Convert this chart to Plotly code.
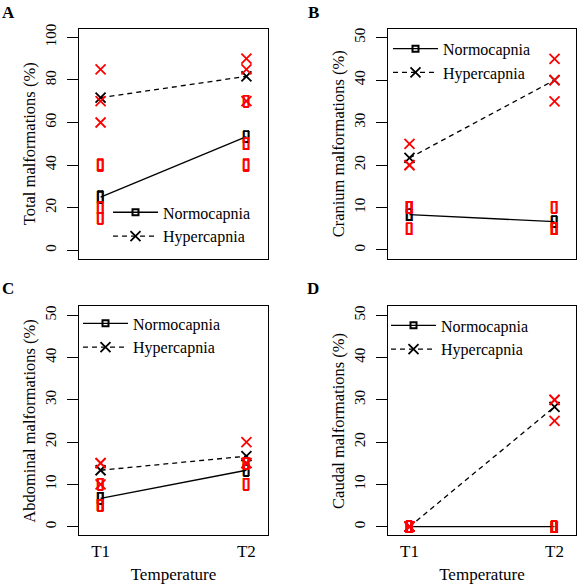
import plotly.graph_objects as go
import numpy as np

# ---------------- data ----------------
categories = ["T1", "T2"]

normo_A = [[40, 20, 15], [70, 50, 40]]
hyper_A = [[85, 70, 60], [90, 85, 70]]
normo_B = [[10, 10, 5], [10, 5, 5]]
hyper_B = [[25, 20, 20], [45, 40, 35]]
normo_C = [[10, 5, 5], [15, 15, 10]]
hyper_C = [[15, 15, 10], [20, 15, 15]]
normo_D = [[0, 0, 0], [0, 0, 0]]
hyper_D = [[0, 0, 0], [30, 30, 25]]

y_titles = ["Total malformations (%)", "Cranium malformations (%)",
            "Abdominal malformations (%)", "Caudal malformations (%)"]
panel_letters = ["A", "B", "C", "D"]
ticks_A = [0, 20, 40, 60, 80, 100]
ticks_BCD = [0, 10, 20, 30, 40, 50]
series_names = ["Normocapnia", "Hypercapnia"]
x_title = "Temperature"

# ---------------- layout geometry ----------------
W, H = 577, 585
FONT = "Liberation Serif"
RECT = "\u25AF"

def fx(px):
    return px / W

def fy(py):
    return 1 - py / H

panels = [
    dict(normo=normo_A, hyper=hyper_A, ticks=ticks_A, yr=[-4, 104],
         xd=[fx(79), fx(268)], yd=[fy(256), fy(24)], xt=False,
         leg=(108, 192), letter=(8, 8)),
    dict(normo=normo_B, hyper=hyper_B, ticks=ticks_BCD, yr=[-2.08, 52.08],
         xd=[fx(388), fx(576)], yd=[fy(256), fy(24)], xt=False,
         leg=(388, 27), letter=(313, 8)),
    dict(normo=normo_C, hyper=hyper_C, ticks=ticks_BCD, yr=[-2.08, 52.08],
         xd=[fx(79), fx(268)], yd=[fy(535), fy(304)], xt=True,
         leg=(78, 304), letter=(8, 286)),
    dict(normo=normo_D, hyper=hyper_D, ticks=ticks_BCD, yr=[-2.08, 52.08],
         xd=[fx(388), fx(576)], yd=[fy(535), fy(304)], xt=True,
         leg=(386, 306), letter=(313, 286)),
]

fig = go.Figure()
layout = dict(
    width=W, height=H, margin=dict(l=0, r=0, t=0, b=0),
    paper_bgcolor="white", plot_bgcolor="white", showlegend=True,
    font=dict(family=FONT, size=17, color="black"),
)
annotations = []

def xmarker(color):
    return dict(symbol="x-thin-open", size=10, color=color,
                line=dict(color=color, width=1.8))

def rectfont(color):
    return dict(family="DejaVu Sans", size=16, color=color, weight="bold",
                shadow=f"0.6px 0px 0px {color}, -0.6px 0px 0px {color}, "
                       f"0px 0.6px 0px {color}, 0px -0.6px 0px {color}")

for i, p in enumerate(panels):
    n = i + 1
    xa = "x" if n == 1 else f"x{n}"
    ya = "y" if n == 1 else f"y{n}"
    legname = "legend" if n == 1 else f"legend{n}"

    nm = [float(np.mean(v)) for v in p["normo"]]
    hm = [float(np.mean(v)) for v in p["hyper"]]

    # mean lines
    fig.add_trace(go.Scatter(x=categories, y=nm, mode="lines", xaxis=xa, yaxis=ya,
                             line=dict(color="black", width=1.3), showlegend=False,
                             hoverinfo="skip"))
    fig.add_trace(go.Scatter(x=categories, y=hm, mode="lines", xaxis=xa, yaxis=ya,
                             line=dict(color="black", width=1.3, dash="5px,4px"),
                             showlegend=False, hoverinfo="skip"))
    # mean markers
    fig.add_trace(go.Scatter(x=categories, y=nm, mode="text", text=[RECT] * len(nm),
                             textposition="middle center", xaxis=xa, yaxis=ya,
                             textfont=rectfont("black"), showlegend=False))
    fig.add_trace(go.Scatter(x=categories, y=hm, mode="markers", xaxis=xa, yaxis=ya,
                             marker=xmarker("black"), showlegend=False))
    # individual replicate points
    xs_n = [c for c, v in zip(categories, p["normo"]) for _ in v]
    ys_n = [y for v in p["normo"] for y in v]
    xs_h = [c for c, v in zip(categories, p["hyper"]) for _ in v]
    ys_h = [y for v in p["hyper"] for y in v]
    fig.add_trace(go.Scatter(x=xs_n, y=ys_n, mode="text", text=[RECT] * len(ys_n),
                             textposition="middle center", xaxis=xa, yaxis=ya,
                             textfont=rectfont("red"), showlegend=False))
    fig.add_trace(go.Scatter(x=xs_h, y=ys_h, mode="markers", xaxis=xa, yaxis=ya,
                             marker=xmarker("red"), showlegend=False))
    # legend entries
    fig.add_trace(go.Scatter(x=[None], y=[None], mode="lines+markers", name=series_names[0],
                             xaxis=xa, yaxis=ya, legend=legname,
                             line=dict(color="black", width=1.3),
                             marker=dict(symbol="square-open", size=6, color="black",
                                         line=dict(color="black", width=2))))
    fig.add_trace(go.Scatter(x=[None], y=[None], mode="lines+markers", name=series_names[1],
                             xaxis=xa, yaxis=ya, legend=legname,
                             line=dict(color="black", width=1.3, dash="5px,4px"),
                             marker=xmarker("black")))

    xkey = "xaxis" if n == 1 else f"xaxis{n}"
    ykey = "yaxis" if n == 1 else f"yaxis{n}"
    layout[xkey] = dict(
        domain=p["xd"], anchor=ya, type="category", range=[-0.148, 1.148],
        showline=True, linecolor="black", linewidth=1, mirror=True,
        showgrid=False, zeroline=False, ticks="",
        showticklabels=p["xt"], tickfont=dict(family=FONT, size=17),
        ticklabelstandoff=0,
        title=dict(text=x_title if p["xt"] else "", font=dict(family=FONT, size=17),
                   standoff=8),
    )
    layout[ykey] = dict(
        domain=p["yd"], anchor=xa, range=p["yr"], tickvals=p["ticks"],
        showline=True, linecolor="black", linewidth=1, mirror=True,
        showgrid=False, zeroline=False, ticks="outside", ticklen=11,
        tickcolor="black", tickwidth=1, tickangle=-90,
        tickfont=dict(family=FONT, size=15), ticklabelstandoff=5,
        title=dict(text=y_titles[i], font=dict(family=FONT, size=16.5), standoff=3),
    )
    layout[legname] = dict(
        x=fx(p["leg"][0]), y=fy(p["leg"][1]), xanchor="left", yanchor="top",
        bgcolor="rgba(0,0,0,0)", borderwidth=0, itemwidth=45,
        font=dict(family=FONT, size=16, color="black"), tracegroupgap=0,
    )
    annotations.append(dict(
        text=f"<b>{panel_letters[i]}</b>", x=fx(p["letter"][0]), y=fy(p["letter"][1]),
        xref="paper", yref="paper", xanchor="center", yanchor="middle",
        showarrow=False, font=dict(family=FONT, size=17, color="black"),
    ))

layout["annotations"] = annotations
fig.update_layout(**layout)
# the page body has a default 8px margin; remove it so the figure fills the window
fig.write_html("out.html", config={"displayModeBar": False},
               post_script="document.body.style.margin='0px';")
